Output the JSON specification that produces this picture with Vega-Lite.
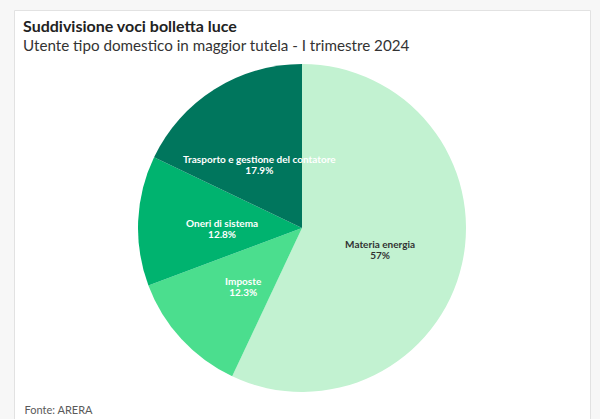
{
  "$schema": "https://vega.github.io/schema/vega-lite/v6.json",
  "description": "Suddivisione voci bolletta luce - I trimestre 2024",
  "width": 576,
  "height": 409,
  "autosize": "none",
  "padding": {"left": 14, "top": 10, "right": 10, "bottom": 0},
  "background": "#f7f7f7",
  "view": {"fill": "white", "stroke": "#e2e2e2"},
  "config": {"font": "Lato"},
  "title": {
    "text": "Suddivisione voci bolletta luce",
    "subtitle": "Utente tipo domestico in maggior tutela - I trimestre 2024",
    "anchor": "start",
    "frame": "group",
    "orient": "top",
    "offset": -44,
    "dx": 9,
    "font": "Lato",
    "fontSize": 16,
    "fontWeight": "bold",
    "color": "#222222",
    "subtitleFont": "Lato",
    "subtitleFontSize": 15.2,
    "subtitleColor": "#333333",
    "subtitlePadding": 4
  },
  "data": {
    "values": [
      {"voce": "Materia energia", "quota": 57, "ordine": 1, "etichetta": "Materia energia\n57%"},
      {"voce": "Imposte", "quota": 12.3, "ordine": 2, "etichetta": "Imposte\n12.3%"},
      {"voce": "Oneri di sistema", "quota": 12.8, "ordine": 3, "etichetta": "Oneri di sistema\n12.8%"},
      {"voce": "Trasporto e gestione del contatore", "quota": 17.9, "ordine": 4, "etichetta": "Trasporto e gestione del contatore\n17.9%"}
    ]
  },
  "encoding": {
    "theta": {"field": "quota", "type": "quantitative", "stack": true},
    "order": {"field": "ordine", "type": "quantitative"},
    "x": {
      "datum": 0,
      "type": "quantitative",
      "scale": {"domain": [-1, 1]},
      "axis": {
        "title": "Fonte: ARERA",
        "domain": false,
        "ticks": false,
        "labels": false,
        "grid": false,
        "titleFont": "Lato",
        "titleFontSize": 11,
        "titleFontWeight": "normal",
        "titleColor": "#5a5a5a",
        "titleAnchor": "start",
        "titleAlign": "left",
        "titleBaseline": "alphabetic",
        "titleX": 10,
        "titleY": -6
      }
    },
    "y": {
      "datum": 0,
      "type": "quantitative",
      "scale": {"domain": [-1, 1.141]},
      "axis": null
    }
  },
  "layer": [
    {
      "mark": {"type": "arc", "outerRadius": 164},
      "encoding": {
        "color": {
          "field": "voce",
          "type": "nominal",
          "legend": null,
          "scale": {
            "domain": ["Materia energia", "Imposte", "Oneri di sistema", "Trasporto e gestione del contatore"],
            "range": ["#c2f2d1", "#4bde8e", "#00b36f", "#00765d"]
          }
        }
      }
    },
    {
      "mark": {
        "type": "text",
        "radius": 80,
        "lineBreak": "\n",
        "fontSize": 10,
        "fontWeight": "bold",
        "lineHeight": 11
      },
      "encoding": {
        "text": {"field": "etichetta", "type": "nominal"},
        "color": {
          "condition": {"test": "datum.voce == 'Materia energia'", "value": "#333333"},
          "value": "white"
        }
      }
    }
  ]
}
